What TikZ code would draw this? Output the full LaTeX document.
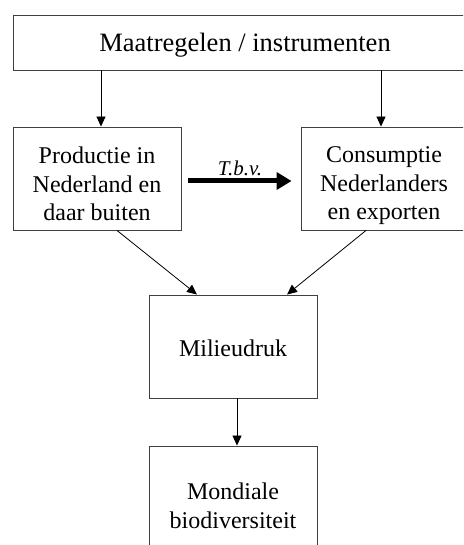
\documentclass[tikz,border=0pt]{standalone}
\usepackage{fontspec}
\setmainfont{Liberation Serif}
\usetikzlibrary{arrows.meta}
\begin{document}
\begin{tikzpicture}[x=1pt,y=-1pt,
  box/.style={draw=black!75,line width=0.9pt,inner sep=0pt,minimum width=168,minimum height=103},
  txt/.style={font=\fontsize{24}{28.5}\selectfont,align=center,inner sep=0pt},
  flow/.style={-{Triangle[length=10pt,width=9pt]},line width=0.8pt},
  mainflow/.style={-{Triangle[length=15pt,width=17pt]},line width=5pt}]
\clip (0,0) rectangle (463,545);
\fill[white] (0,0) rectangle (463,545);
% boxes
\node[box,minimum width=464,minimum height=55] (top) at (245,42.5) {};
\node[box] (prod) at (97,178.5) {};
\node[box] (cons) at (385,178.5) {};
\node[box] (milieu) at (233,346.5) {};
\node[box] (bio) at (233,497.5) {};
% texts
\node[txt,font=\fontsize{26.5}{30}\selectfont] (ttop) at (245,45) {Maatregelen / instrumenten};
\node[txt] (tprod) at (97,184) {Productie in\\Nederland en\\daar buiten};
\node[txt] (tcons) at (384,186) {Consumptie\\Nederlanders\\en exporten};
\node[txt] (tmil) at (233,348) {Milieudruk};
\node[txt] (tbio) at (233,506) {Mondiale\\biodiversiteit};
% connectors
\draw[flow] ([xshift=-144]top.south) -- ([xshift=4]prod.north);
\draw[flow] ([xshift=136]top.south) -- ([xshift=-4]cons.north);
\draw[mainflow] ([xshift=7,yshift=-2.5]prod.east) -- node[above=3pt,inner sep=0pt,font=\fontsize{21}{24}\selectfont\itshape] (tbv) {T.b.v.} ([xshift=-9,yshift=-2.5]cons.east-|cons.west);
\draw[flow] ([xshift=20]prod.south) -- ([xshift=-36]milieu.north);
\draw[flow] ([xshift=-19]cons.south) -- ([xshift=54]milieu.north);
\draw[flow] ([xshift=4]milieu.south) -- ([xshift=4]bio.north);
\end{tikzpicture}
\end{document}
